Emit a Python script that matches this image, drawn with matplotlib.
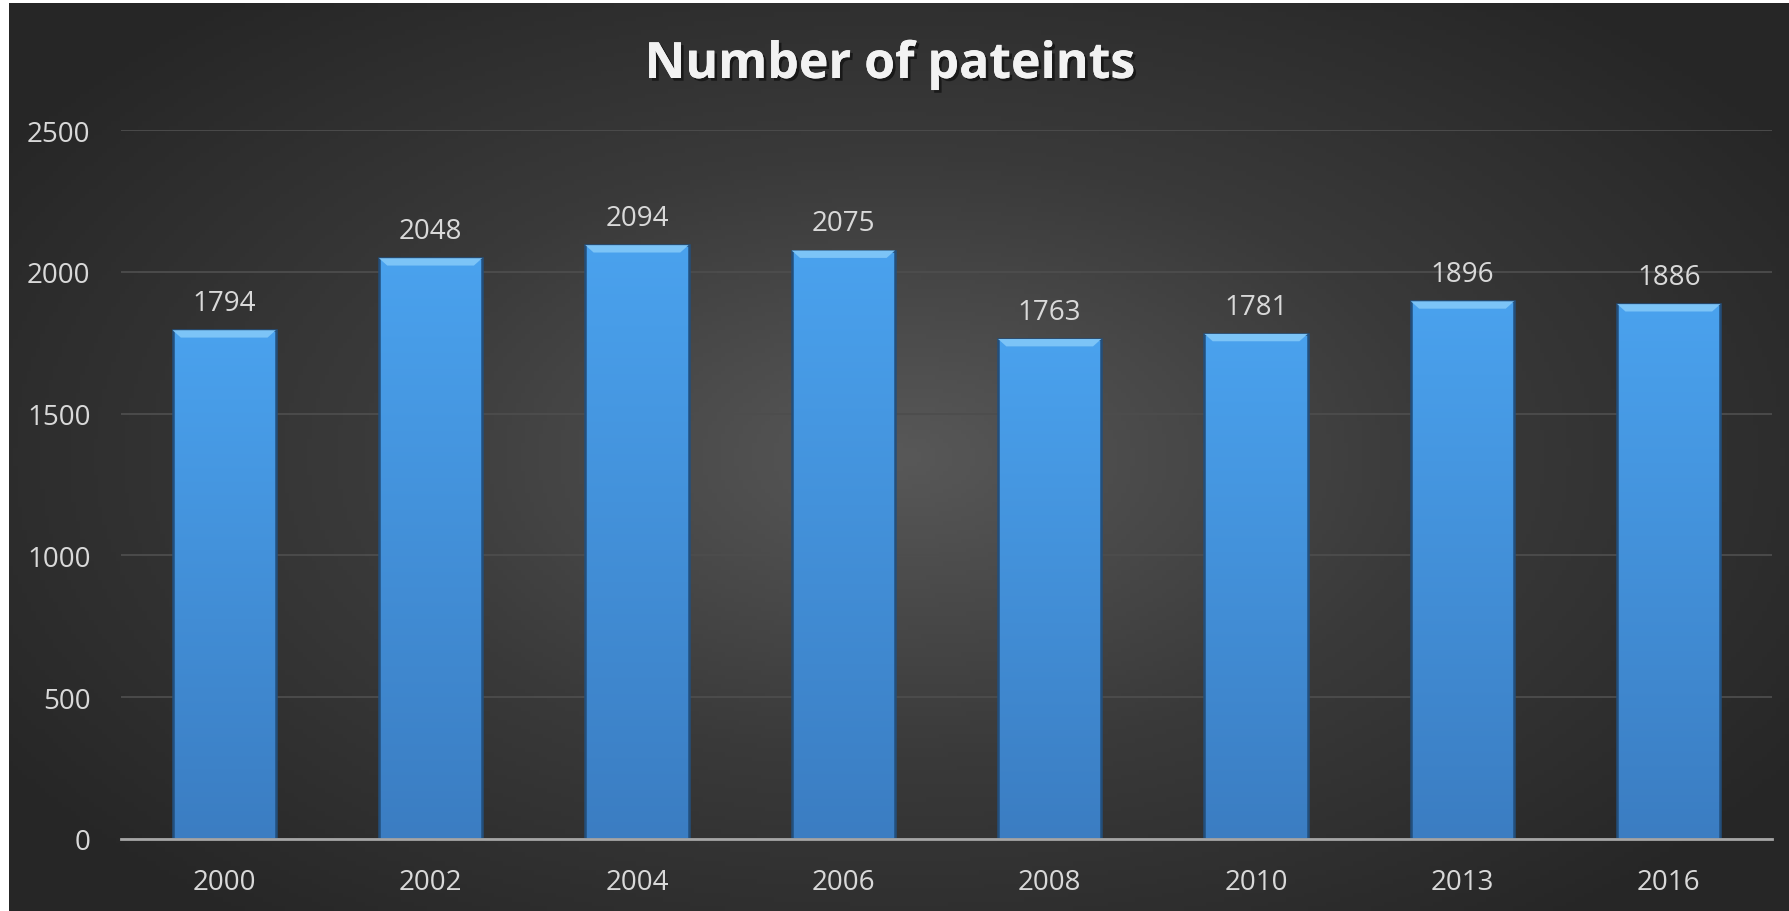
import numpy as np
import matplotlib.pyplot as plt
import matplotlib.patheffects as pe
from matplotlib.patches import Rectangle, Polygon
from matplotlib.colors import LinearSegmentedColormap

# Podaci
years = ["2000", "2002", "2004", "2006", "2008", "2010", "2013", "2016"]
patients = [1794, 2048, 2094, 2075, 1763, 1781, 1896, 1886]
y_ticks = [0, 500, 1000, 1500, 2000, 2500]

W, H = 1789, 912
fig = plt.figure(figsize=(W / 100, H / 100), dpi=100, facecolor="white")
plt.rcParams["font.family"] = ["Open Sans", "DejaVu Sans"]

# Tamna pozadina s radijalnim gradijentom
bg = fig.add_axes([9 / W, 0, 1 - 9 / W, 1 - 4 / H])
bg.set_axis_off()
gx, gy = np.meshgrid(np.linspace(-1, 1, 400), np.linspace(-1, 1, 200))
r = np.sqrt((gx / 1.05) ** 2 + (gy / 1.15) ** 2)
bg_cmap = LinearSegmentedColormap.from_list("bg", ["#585858", "#3a3a3a", "#262626"])
bg.imshow(r, cmap=bg_cmap, vmin=0, vmax=1.15, aspect="auto", extent=[0, 1, 0, 1])
bg.set_xlim(0, 1)
bg.set_ylim(0, 1)

ax = fig.add_axes([121 / W, (H - 840) / H, (1772 - 121) / W, (840 - 131) / H])
ax.patch.set_alpha(0)

x = np.arange(len(years))
width = 0.5
bars = ax.bar(x, patients, width=width, color="none", zorder=3)

# Gradijent na stupcima
bar_cmap = LinearSegmentedColormap.from_list("bar", ["#3b7dc2", "#4aa2ee"])
grad = np.linspace(0, 1, 256).reshape(-1, 1)
for b in bars:
    bx, bw, bh = b.get_x(), b.get_width(), b.get_height()
    im = ax.imshow(grad, cmap=bar_cmap, aspect="auto", origin="lower",
                   extent=[bx, bx + bw, 0, bh], zorder=3)
    clip = Rectangle((bx, 0), bw, bh, transform=ax.transData)
    im.set_clip_path(clip)
    # tamni rubovi
    ax.add_patch(Rectangle((bx, 0), bw, bh, fill=False, edgecolor="#234f7c",
                           linewidth=1.8, zorder=4))
    # svijetli rub na vrhu (bevel)
    bev = 26
    dx = bw * 0.08
    ax.add_patch(Polygon([[bx, bh], [bx + bw, bh], [bx + bw - dx, bh - bev],
                          [bx + dx, bh - bev]], closed=True,
                         facecolor="#7cc4f7", edgecolor="none", zorder=5))
    ax.annotate(str(int(bh)), (bx + bw / 2, bh), xytext=(0, 14.5),
                textcoords="offset points", ha="center", va="baseline",
                fontsize=20, color="#d9d9d9", zorder=6)

ax.set_xlim(-0.5, len(years) - 0.5)
ax.set_ylim(0, 2500)
ax.set_yticks(y_ticks)
ax.set_xticks(x)
ax.set_xticklabels(years)
ax.tick_params(axis="both", length=0, labelsize=20, labelcolor="#d9d9d9")
ax.tick_params(axis="y", pad=22)
ax.tick_params(axis="x", pad=21)
ax.grid(axis="y", color="#4d4d4d", linewidth=1.3, zorder=0)
ax.set_axisbelow(True)
for s in ["top", "right", "left"]:
    ax.spines[s].set_visible(False)
ax.spines["bottom"].set_color("#a6a6a6")
ax.spines["bottom"].set_linewidth(2)
ax.spines["bottom"].set_zorder(6)

fig.text(890 / W, 1 - 66 / H, "Number of pateints", ha="center", va="center",
         fontsize=36, fontweight="bold", color="#f2f2f2",
         path_effects=[pe.withSimplePatchShadow(offset=(2, -2), shadow_rgbFace="black", alpha=0.5),
                       pe.Normal()])

fig.savefig("out.png", dpi=100, facecolor="white")
